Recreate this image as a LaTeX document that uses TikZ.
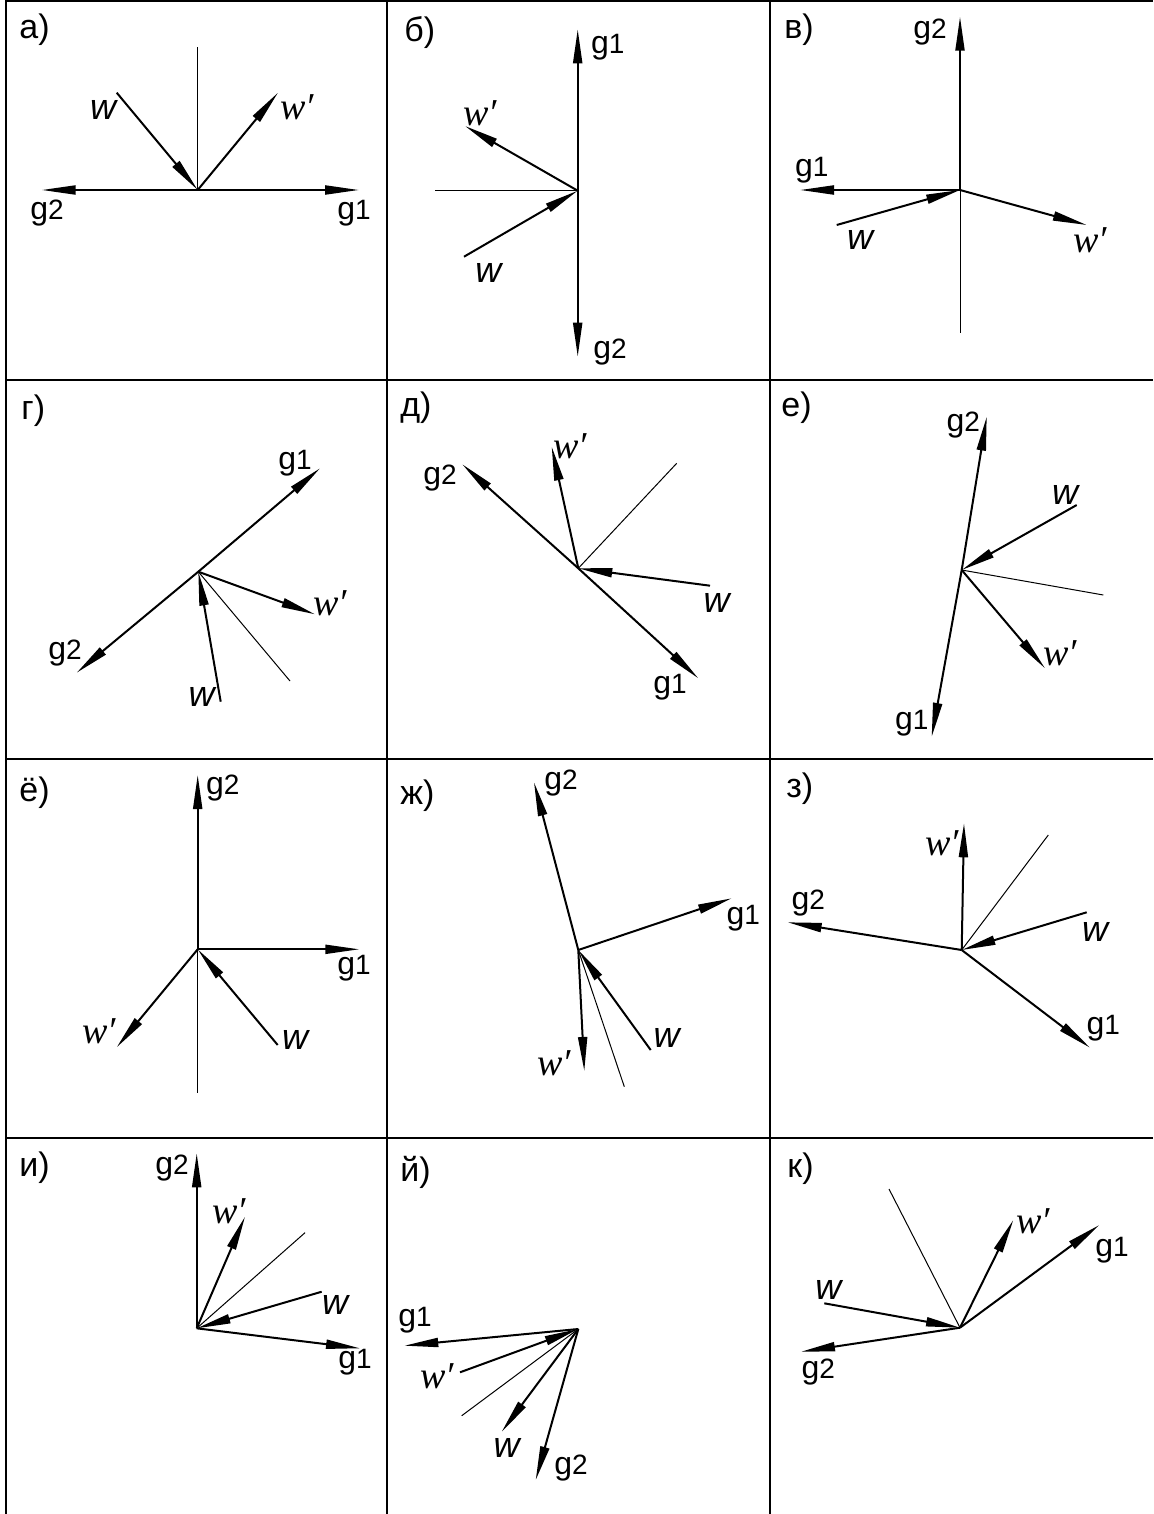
\documentclass[tikz,border=0pt]{standalone}
\usepackage{fontspec}
\setmainfont{Liberation Sans}
\newfontfamily\wfont{Liberation Serif}
\usetikzlibrary{arrows.meta}

\newcommand{\glab}[1]{{\fontsize{16}{16}\selectfont g}{\fontsize{14}{14}\selectfont #1}}
\newcommand{\wlab}{{\fontsize{18}{18}\selectfont\itshape w}}
\newcommand{\wplab}{{\fontsize{19}{19}\selectfont\wfont\itshape w′}}
\newcommand{\plab}[1]{{\fontsize{17}{17}\selectfont #1}}

\tikzset{
 vec/.style={line width=1pt,-{Triangle[length=17pt,width=4.5pt]}},
 nline/.style={line width=0.5pt},
 frm/.style={line width=1pt},
 lab/.style={inner sep=0pt},
 ttl/.style={inner sep=0pt,anchor=west},
}

\begin{document}
\begin{tikzpicture}[x=0.5pt,y=-0.5pt]
 \useasboundingbox (0,0) rectangle (1153,1514);
 % frame
 \draw[frm] (6,1514) -- (6,1) -- (1153,1);
 \draw[frm] (387,1) -- (387,1514);
 \draw[frm] (770,1) -- (770,1514);
 \draw[frm] (6,380) -- (1153,380);
 \draw[frm] (6,759) -- (1153,759);
 \draw[frm] (6,1138) -- (1153,1138);

 % а)
 \begin{scope}[shift={(0,0)}]
  \coordinate (aO) at (197.7,190);
  \coordinate (aN) at (197.7,46.7);
  \coordinate (aG1) at (359,190);
  \coordinate (aG2) at (41.7,190);
  \coordinate (aW) at (116.7,92.7);
  \coordinate (aWp) at (278,92.7);
  \draw[nline] (aO) -- (aN);
  \draw[vec] (aO) -- (aG1);
  \draw[vec] (aO) -- (aG2);
  \draw[vec] (aW) -- (aO);
  \draw[vec] (aO) -- (aWp);
  \node[ttl] (aT) at (19,30) {\plab{а)}};
  \node[lab] (aL1) at (354,213) {\glab1};
  \node[lab] (aL2) at (47,213) {\glab2};
  \node[lab] (aLw) at (103,110) {\wlab};
  \node[lab] (aLwp) at (297,107) {\wplab};
 \end{scope}

 % б)
 \begin{scope}[shift={(385,0)}]
  \coordinate (bO) at (192.7,190.7);
  \coordinate (bN) at (50,190.7);
  \coordinate (bG1) at (192.7,29.3);
  \coordinate (bG2) at (192.7,356.7);
  \coordinate (bW) at (79,256.7);
  \coordinate (bWp) at (80,126);
  \draw[nline] (bO) -- (bN);
  \draw[vec] (bO) -- (bG1);
  \draw[vec] (bO) -- (bG2);
  \draw[vec] (bW) -- (bO);
  \draw[vec] (bO) -- (bWp);
  \node[ttl] (bT) at (19,33) {\plab{б)}};
  \node[lab] (bL1) at (222.7,46.7) {\glab1};
  \node[lab] (bL2) at (225,351.7) {\glab2};
  \node[lab] (bLw) at (103.3,273.3) {\wlab};
  \node[lab] (bLwp) at (95,113.3) {\wplab};
 \end{scope}

 % в)
 \begin{scope}[shift={(765,0)}]
  \coordinate (cO) at (195,190);
  \coordinate (cN) at (195,333.3);
  \coordinate (cG1) at (35,190);
  \coordinate (cG2) at (195,16.7);
  \coordinate (cW) at (71.7,225);
  \coordinate (cWp) at (321.7,225);
  \draw[nline] (cO) -- (cN);
  \draw[vec] (cO) -- (cG1);
  \draw[vec] (cO) -- (cG2);
  \draw[vec] (cW) -- (cO);
  \draw[vec] (cO) -- (cWp);
  \node[ttl] (cT) at (19,30) {\plab{в)}};
  \node[lab] (cL1) at (46.7,170) {\glab1};
  \node[lab] (cL2) at (165,31.7) {\glab2};
  \node[lab] (cLw) at (95,240) {\wlab};
  \node[lab] (cLwp) at (325,240) {\wplab};
 \end{scope}

 % г)
 \begin{scope}[shift={(0,375)}]
  \coordinate (dO) at (198.3,196.7);
  \coordinate (dN) at (290,306);
  \coordinate (dG1) at (320,93.3);
  \coordinate (dG2) at (76.7,297.7);
  \coordinate (dW) at (220.7,326.7);
  \coordinate (dWp) at (315,239.3);
  \draw[nline] (dO) -- (dN);
  \draw[vec] (dO) -- (dG1);
  \draw[vec] (dO) -- (dG2);
  \draw[vec] (dW) -- (dO);
  \draw[vec] (dO) -- (dWp);
  \node[ttl] (dT) at (21,36) {\plab{г)}};
  \node[lab] (dL1) at (295,88.3) {\glab1};
  \node[lab] (dL2) at (65,278.3) {\glab2};
  \node[lab] (dLw) at (201.7,321.7) {\wlab};
  \node[lab] (dLwp) at (330,228.3) {\wplab};
 \end{scope}

 % д)
 \begin{scope}[shift={(385,375)}]
  \coordinate (eO) at (193.3,193.3);
  \coordinate (eN) at (291.7,88.3);
  \coordinate (eG1) at (313.3,303.3);
  \coordinate (eG2) at (77.3,89.3);
  \coordinate (eW) at (325,210.7);
  \coordinate (eWp) at (166.7,71.7);
  \draw[nline] (eO) -- (eN);
  \draw[vec] (eO) -- (eG1);
  \draw[vec] (eO) -- (eG2);
  \draw[vec] (eW) -- (eO);
  \draw[vec] (eO) -- (eWp);
  \node[ttl] (eT) at (15,33) {\plab{д)}};
  \node[lab] (eL1) at (285,311.7) {\glab1};
  \node[lab] (eL2) at (55,103.3) {\glab2};
  \node[lab] (eLw) at (331.7,228.3) {\wlab};
  \node[lab] (eLwp) at (185,71.7) {\wplab};
 \end{scope}

 % е)
 \begin{scope}[shift={(765,375)}]
  \coordinate (fO) at (196.7,195);
  \coordinate (fN) at (338.3,220);
  \coordinate (fG1) at (166.7,361.7);
  \coordinate (fG2) at (221.7,41.7);
  \coordinate (fW) at (311.7,130);
  \coordinate (fWp) at (280,293.3);
  \draw[nline] (fO) -- (fN);
  \draw[vec] (fO) -- (fG1);
  \draw[vec] (fO) -- (fG2);
  \draw[vec] (fW) -- (fO);
  \draw[vec] (fO) -- (fWp);
  \node[ttl] (fT) at (16,33) {\plab{е)}};
  \node[lab] (fL1) at (146.7,348.3) {\glab1};
  \node[lab] (fL2) at (198.3,50) {\glab2};
  \node[lab] (fLw) at (300,120) {\wlab};
  \node[lab] (fLwp) at (295,278.3) {\wplab};
 \end{scope}

 % ё)
 \begin{scope}[shift={(0,755)}]
  \coordinate (gO) at (197.7,194.3);
  \coordinate (gN) at (197.7,338.3);
  \coordinate (gG1) at (359.3,194.3);
  \coordinate (gG2) at (197.7,20);
  \coordinate (gW) at (277.7,290);
  \coordinate (gWp) at (116.7,292.3);
  \draw[nline] (gO) -- (gN);
  \draw[vec] (gO) -- (gG1);
  \draw[vec] (gO) -- (gG2);
  \draw[vec] (gW) -- (gO);
  \draw[vec] (gO) -- (gWp);
  \node[ttl] (gT) at (19,38) {\plab{ё)}};
  \node[lab] (gL1) at (354,213.3) {\glab1};
  \node[lab] (gL2) at (222.7,33.3) {\glab2};
  \node[lab] (gLw) at (295,285) {\wlab};
  \node[lab] (gLwp) at (99,276.7) {\wplab};
 \end{scope}

 % ж)
 \begin{scope}[shift={(385,755)}]
  \coordinate (hO) at (193.3,195);
  \coordinate (hN) at (239.3,331.7);
  \coordinate (hG1) at (346.7,143.3);
  \coordinate (hG2) at (149,27.3);
  \coordinate (hW) at (265.7,295);
  \coordinate (hWp) at (199.3,316);
  \draw[nline] (hO) -- (hN);
  \draw[vec] (hO) -- (hG1);
  \draw[vec] (hO) -- (hG2);
  \draw[vec] (hW) -- (hO);
  \draw[vec] (hO) -- (hWp);
  \node[ttl] (hT) at (15,41) {\plab{ж)}};
  \node[lab] (hL1) at (358.3,163.3) {\glab1};
  \node[lab] (hL2) at (176,28.3) {\glab2};
  \node[lab] (hLw) at (281.7,283.3) {\wlab};
  \node[lab] (hLwp) at (169,308.3) {\wplab};
 \end{scope}

 % з)
 \begin{scope}[shift={(765,755)}]
  \coordinate (iO) at (196.7,195);
  \coordinate (iN) at (283.3,80);
  \coordinate (iG1) at (325,292.7);
  \coordinate (iG2) at (22.7,167.3);
  \coordinate (iW) at (321.7,157.3);
  \coordinate (iWp) at (199,68.3);
  \draw[nline] (iO) -- (iN);
  \draw[vec] (iO) -- (iG1);
  \draw[vec] (iO) -- (iG2);
  \draw[vec] (iW) -- (iO);
  \draw[vec] (iO) -- (iWp);
  \node[ttl] (iT) at (21,34) {\plab{з)}};
  \node[lab] (iL1) at (338.3,273.3) {\glab1};
  \node[lab] (iL2) at (43.3,148.3) {\glab2};
  \node[lab] (iLw) at (330,176.7) {\wlab};
  \node[lab] (iLwp) at (177,88.3) {\wplab};
 \end{scope}

 % и)
 \begin{scope}[shift={(0,1135)}]
  \coordinate (jO) at (196.7,193.3);
  \coordinate (jN) at (305,97.7);
  \coordinate (jG1) at (360,213.3);
  \coordinate (jG2) at (196.7,18.3);
  \coordinate (jW) at (321.7,156.7);
  \coordinate (jWp) at (245,81.7);
  \draw[nline] (jO) -- (jN);
  \draw[vec] (jO) -- (jG1);
  \draw[vec] (jO) -- (jG2);
  \draw[vec] (jW) -- (jO);
  \draw[vec] (jO) -- (jWp);
  \node[ttl] (jT) at (19,33) {\plab{и)}};
  \node[lab] (jL1) at (355,226.7) {\glab1};
  \node[lab] (jL2) at (172,33.3) {\glab2};
  \node[lab] (jLw) at (335,170) {\wlab};
  \node[lab] (jLwp) at (229.3,76.7) {\wplab};
 \end{scope}

 % й)
 \begin{scope}[shift={(385,1135)}]
  \coordinate (kO) at (193.3,194);
  \coordinate (kN) at (76.7,280.7);
  \coordinate (kG1) at (19.3,210.7);
  \coordinate (kG2) at (150.7,345);
  \coordinate (kW) at (116.7,296.7);
  \coordinate (kWp) at (75,237.3);
  \draw[nline] (kO) -- (kN);
  \draw[vec] (kO) -- (kG1);
  \draw[vec] (kO) -- (kG2);
  \draw[vec] (kO) -- (kW);
  \draw[vec] (kWp) -- (kO);
  \node[ttl] (kT) at (15,37) {\plab{й)}};
  \node[lab] (kL1) at (30,185) {\glab1};
  \node[lab] (kL2) at (186,333.3) {\glab2};
  \node[lab] (kLw) at (121.7,313.3) {\wlab};
  \node[lab] (kLwp) at (52,241.7) {\wplab};
 \end{scope}

 % к)
 \begin{scope}[shift={(765,1135)}]
  \coordinate (lO) at (195,192.7);
  \coordinate (lN) at (124,54);
  \coordinate (lG1) at (334.3,90);
  \coordinate (lG2) at (36,216.7);
  \coordinate (lW) at (59.3,168.3);
  \coordinate (lWp) at (248.3,85);
  \draw[nline] (lO) -- (lN);
  \draw[vec] (lO) -- (lG1);
  \draw[vec] (lO) -- (lG2);
  \draw[vec] (lW) -- (lO);
  \draw[vec] (lO) -- (lWp);
  \node[ttl] (lT) at (22,34) {\plab{к)}};
  \node[lab] (lL1) at (347,115) {\glab1};
  \node[lab] (lL2) at (53.3,236.7) {\glab2};
  \node[lab] (lLw) at (63.3,155) {\wlab};
  \node[lab] (lLwp) at (268,86.7) {\wplab};
 \end{scope}
\end{tikzpicture}
\end{document}
